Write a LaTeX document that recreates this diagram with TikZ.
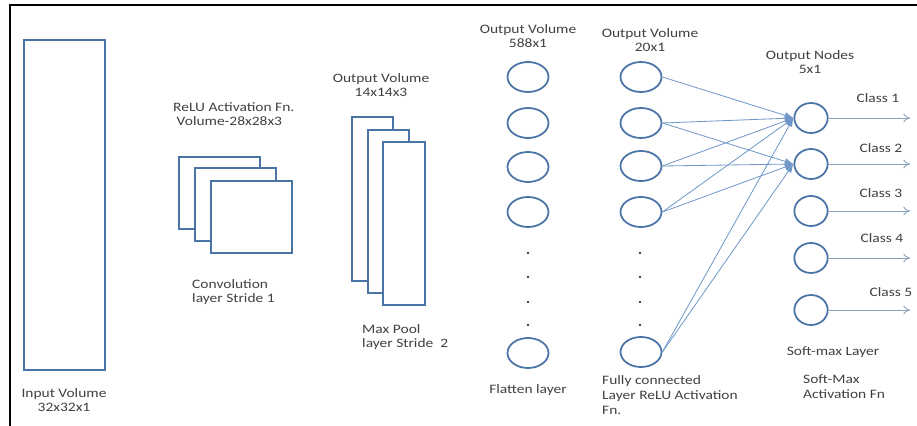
\documentclass[tikz,border=0pt]{standalone}
\usepackage{fontspec}
\setmainfont{Carlito}[FakeStretch=1.2]
\usetikzlibrary{shapes.geometric,arrows.meta}
\definecolor{layerblue}{HTML}{4A74A5}
\definecolor{edgeblue}{HTML}{6F98C9}
\definecolor{outgray}{HTML}{8DA3BA}
\definecolor{textgray}{HTML}{404040}
\tikzset{
  lbl/.style={font=\fontsize{11}{12.6}\selectfont,text=textgray,inner sep=0pt},
  vol/.style={draw=layerblue,line width=1.6pt,fill=white},
  neuron/.style={ellipse,draw=layerblue,line width=1.5pt,minimum width=1.23cm,minimum height=0.9cm,inner sep=0pt},
  outneuron/.style={neuron,minimum width=1.0cm},
  dotmark/.style={circle,fill=black,inner sep=0pt,minimum size=2pt},
  link/.style={draw=edgeblue,line width=0.7pt,-{Latex[length=2.6mm,width=2mm]}},
  outlink/.style={draw=outgray,line width=0.8pt,-{To[length=2mm,width=2.6mm]}}
}
\begin{document}
\begin{tikzpicture}[x=0.03cm,y=-0.03cm]
\useasboundingbox (0,0) rectangle (917,426);
\draw [line width=1.7pt] (10,426) -- (10,5) -- (917,5);

\draw [vol] ( 24, 40) rectangle (105,370);
\draw [vol] (179,157) rectangle (260,229);
\draw [vol] (195,168) rectangle (276,241);
\draw [vol] (211,181) rectangle (292,253);
\draw [vol] (352,117) rectangle (393,281);
\draw [vol] (368,130) rectangle (409,293);
\draw [vol] (383,142) rectangle (425,305);

\node (inlbl)   at ( 64,400) [lbl,align=center] {Input Volume\\32x32x1};
\node (relulbl) at (173,114) [lbl,align=left,anchor=west] {ReLU Activation Fn.\\\ Volume-28x28x3};
\node (convlbl) at (192,292) [lbl,align=left,anchor=west] {Convolution\\layer Stride 1};
\node (poolttl) at (381, 85) [lbl,align=center] {Output Volume\\14x14x3};
\node (poollbl) at (362,337) [lbl,align=left,anchor=west] {Max Pool\\layer Stride~~2};

\node (f1) at (528, 77) [neuron] {};
\node (f2) at (528,123) [neuron] {};
\node (f3) at (528,167) [neuron] {};
\node (f4) at (528,212) [neuron] {};
\node (fn) at (528,353) [neuron] {};
\node (fd1) at (528,253) [dotmark] {};
\node (fd2) at (528,277) [dotmark] {};
\node (fd3) at (528,302) [dotmark] {};
\node (fd4) at (528,325) [dotmark] {};
\node (flatttl) at (528, 36) [lbl,align=center] {Output Volume\\588x1};
\node (flatlbl) at (528,390) [lbl] {Flatten layer};

\node (h1) at (641, 77) [neuron] {};
\node (h2) at (641,123) [neuron] {};
\node (h3) at (641,166) [neuron] {};
\node (h4) at (641,212) [neuron] {};
\node (hn) at (641,352) [neuron] {};
\node (hd1) at (640,253) [dotmark] {};
\node (hd2) at (640,277) [dotmark] {};
\node (hd3) at (640,302) [dotmark] {};
\node (hd4) at (640,325) [dotmark] {};
\node (fcttl) at (650, 40) [lbl,align=center] {Output Volume\\20x1};
\node (fclbl) at (602,395) [lbl,align=left,anchor=west] {Fully connected\\Layer ReLU Activation\\Fn.};

\node (s1) at (811,118) [outneuron] {};
\node (s2) at (811,164) [outneuron] {};
\node (s3) at (811,211) [outneuron] {};
\node (s4) at (811,258) [outneuron] {};
\node (s5) at (811,310) [outneuron] {};
\node (smttl) at (810, 62) [lbl,align=center] {Output Nodes\\5x1};
\node (smlbl) at (833,352) [lbl] {Soft-max Layer};
\node (actlbl) at (803,387) [lbl,align=left,anchor=west] {Soft-Max\\Activation Fn};

\node (c1) at (878, 98) [lbl] {Class 1};
\node (c2) at (881,148) [lbl] {Class 2};
\node (c3) at (881,193) [lbl] {Class 3};
\node (c4) at (882,238) [lbl] {Class 4};
\node (c5) at (891,292) [lbl] {Class 5};
\coordinate (o1) at (910,118);
\coordinate (o2) at (910,164);
\coordinate (o3) at (910,211);
\coordinate (o4) at (910,258);
\coordinate (o5) at (910,310);

\draw [link] (h1.east) -- (s1.west);
\draw [link] (h2.east) -- (s1.west);
\draw [link] (h2.east) -- (s2.west);
\draw [link] (h3.east) -- (s1.west);
\draw [link] (h3.east) -- (s2.west);
\draw [link] (h4.east) -- (s1.west);
\draw [link] (h4.east) -- (s2.west);
\draw [link] (hn.east) -- (s1.west);
\draw [link] (hn.east) -- (s2.west);

\draw [outlink] (s1) -- (o1);
\draw [outlink] (s2) -- (o2);
\draw [outlink] (s3) -- (o3);
\draw [outlink] (s4) -- (o4);
\draw [outlink] (s5) -- (o5);
\end{tikzpicture}
\end{document}
